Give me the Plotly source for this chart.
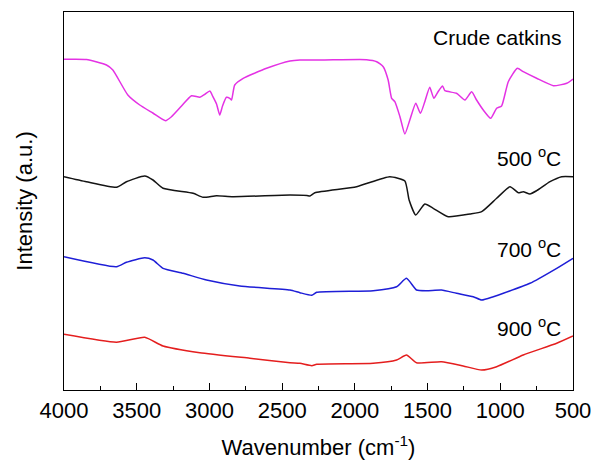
import plotly.graph_objects as go

# Wavenumber (cm-1) and intensity (a.u., arbitrary offset)
crude_wn = [4000, 3846, 3708, 3664, 3561, 3479, 3389, 3302, 3261, 3192, 3123, 3066, 3032, 2997, 2976,
            2951, 2929, 2910, 2883, 2860, 2848, 2826, 2768, 2607, 2446, 2378, 2218, 1919, 1850, 1805,
            1771, 1747, 1725, 1690, 1656, 1622, 1581, 1549, 1519, 1485, 1457, 1428, 1397, 1381, 1301,
            1243, 1197, 1163, 1117, 1066, 1025, 991, 945, 883, 842, 750, 635, 543, 500]
crude_int = [330.7, 330.5, 325, 320, 295, 285, 277, 269.3, 273.3, 284, 294.3, 292.7, 295.7, 299, 293.3,
             286, 275, 284, 292.7, 291.7, 290, 305, 311.7, 321.7, 329, 330, 330, 330.3, 328.3, 323.3,
             310, 291.7, 288.3, 273.3, 256, 270, 286.7, 276.7, 288.3, 302.7, 291.7, 298.3, 304, 299.3, 296.7,
             290, 298.3, 290, 280, 271.7, 281.7, 284, 308.3, 321.7, 318.3, 311.7, 304.3, 306.7, 311]

c500_wn = [4000, 3846, 3639, 3571, 3445, 3388, 3319, 3112, 3044, 2951, 2837, 2446, 2330, 2309, 2275,
           1988, 1760, 1656, 1627, 1581, 1519, 1461, 1358, 1208, 1128, 1025, 933, 876, 842, 796,
           750, 658, 578, 500]
c500_int = [213.3, 208.3, 202.7, 208.3, 214, 210, 201.7, 196.7, 192.7, 194.3, 193.3, 195, 194.5, 194, 197.3,
            203.3, 213.3, 209, 190, 175, 186, 181.7, 173.3, 176, 178.3, 191.7, 203.3, 197.3, 198.3, 196,
            199.3, 208.3, 213.3, 213.3]

c700_wn = [4000, 3639, 3571, 3445, 3388, 3319, 3181, 3020, 2791, 2446, 2378, 2296, 2262, 1874, 1713,
           1645, 1576, 1507, 1404, 1301, 1186, 1128, 1048, 979, 796, 612, 500]
c700_int = [133.3, 123.3, 127.7, 132.3, 130, 121.7, 116.7, 110, 104, 100, 97.3, 94.7, 97.7, 99.3, 103.3,
            111.7, 100, 99.3, 100, 96.7, 93.3, 90, 93.3, 96.7, 106.7, 121.7, 131.7]

c900_wn = [4000, 3639, 3445, 3319, 3066, 2722, 2446, 2378, 2296, 2262, 1874, 1713, 1645, 1576, 1404,
           1255, 1128, 1025, 842, 612, 500]
c900_int = [55.7, 47.7, 52.7, 44, 37.3, 31.7, 27.3, 26.7, 24.3, 25.7, 26.7, 30, 35, 27.3, 28.3,
            24, 20, 23.3, 35, 46.7, 54]

labels = ["Crude catkins", "500 <sup>o</sup>C", "700 <sup>o</sup>C", "900 <sup>o</sup>C"]
label_y = [353, 233, 142, 63]
x_ticks = [4000, 3500, 3000, 2500, 2000, 1500, 1000, 500]

series = [
    (crude_wn, crude_int, "rgb(228,50,228)"),
    (c500_wn, c500_int, "rgb(20,20,20)"),
    (c700_wn, c700_int, "rgb(30,30,215)"),
    (c900_wn, c900_int, "rgb(228,30,30)"),
]

fig = go.Figure()
for wn, inten, col in series:
    fig.add_trace(go.Scatter(x=wn, y=inten, mode="lines",
                             line=dict(color=col, width=1.5, shape="spline", smoothing=0.5),
                             showlegend=False, hoverinfo="skip"))

fam = "Liberation Sans, Arial, sans-serif"
for txt, yv in zip(labels, label_y):
    fig.add_annotation(x=0.98, xref="paper", y=yv, yref="y", text=txt, showarrow=False,
                       xanchor="right", yanchor="middle",
                       font=dict(size=21, color="black", family=fam))

font = dict(family=fam, size=22, color="black")
fig.update_layout(
    width=593, height=461,
    margin=dict(l=64, r=20, t=12, b=71),
    paper_bgcolor="white", plot_bgcolor="white",
    font=font,
    xaxis=dict(range=[4000, 500], tickvals=x_ticks, ticks="inside", ticklen=7, tickwidth=1.3,
               tickcolor="black", showline=True, linecolor="black", linewidth=1.3, mirror=True,
               showgrid=False, zeroline=False, automargin=False,
               minor=dict(dtick=250, ticks="inside", ticklen=4, tickwidth=1.3, tickcolor="black", showgrid=False),
               title=dict(text="Wavenumber (cm<sup>-1</sup>)", font=font, standoff=18),
               tickfont=font),
    yaxis=dict(range=[0, 378], showticklabels=False, ticks="", showline=True, linecolor="black",
               linewidth=1.3, mirror=True, showgrid=False, zeroline=False, automargin=False,
               title=dict(text="Intensity (a.u.)", font=font, standoff=24)),
)

fig.write_html("out.html")
